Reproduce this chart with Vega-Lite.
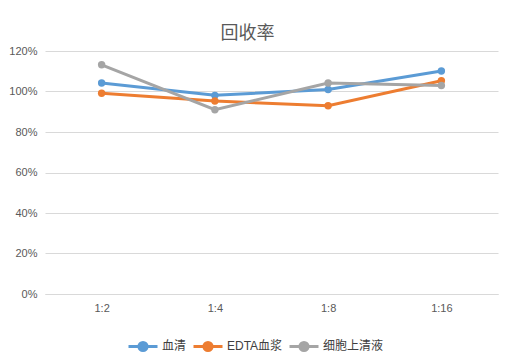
{
  "$schema": "https://vega.github.io/schema/vega-lite/v6.json",
  "width": 453,
  "height": 243,
  "autosize": {"type": "none"},
  "padding": {"left": 45, "top": 51, "right": 15, "bottom": 64},
  "background": "white",
  "title": {
    "text": "回收率",
    "font": "Noto Sans CJK SC",
    "fontSize": 18,
    "fontWeight": "normal",
    "color": "#595959",
    "anchor": "middle",
    "frame": "group",
    "dx": -24,
    "offset": 2
  },
  "data": {
    "values": [
      {"ratio": "1:2", "series": "血清", "value": 1.042},
      {"ratio": "1:4", "series": "血清", "value": 0.981},
      {"ratio": "1:8", "series": "血清", "value": 1.01},
      {"ratio": "1:16", "series": "血清", "value": 1.101},
      {"ratio": "1:2", "series": "EDTA血浆", "value": 0.991},
      {"ratio": "1:4", "series": "EDTA血浆", "value": 0.953},
      {"ratio": "1:8", "series": "EDTA血浆", "value": 0.93},
      {"ratio": "1:16", "series": "EDTA血浆", "value": 1.053},
      {"ratio": "1:2", "series": "细胞上清液", "value": 1.132},
      {"ratio": "1:4", "series": "细胞上清液", "value": 0.91},
      {"ratio": "1:8", "series": "细胞上清液", "value": 1.042},
      {"ratio": "1:16", "series": "细胞上清液", "value": 1.03}
    ]
  },
  "encoding": {
    "x": {
      "field": "ratio",
      "type": "nominal",
      "sort": ["1:2", "1:4", "1:8", "1:16"],
      "scale": {"paddingInner": 0, "paddingOuter": 0},
      "axis": {
        "title": null,
        "labelAngle": 0,
        "ticks": false,
        "domainColor": "#d9d9d9",
        "labelColor": "#595959",
        "labelFont": "Liberation Sans",
        "labelFontSize": 11,
        "labelPadding": 8
      }
    },
    "y": {
      "field": "value",
      "type": "quantitative",
      "scale": {"domain": [0, 1.2], "nice": false},
      "axis": {
        "title": null,
        "format": ".0%",
        "values": [0, 0.2, 0.4, 0.6, 0.8, 1.0, 1.2],
        "domain": false,
        "ticks": false,
        "gridColor": "#d9d9d9",
        "labelColor": "#595959",
        "labelFont": "Liberation Sans",
        "labelFontSize": 11,
        "labelPadding": 8
      }
    },
    "color": {
      "field": "series",
      "type": "nominal",
      "sort": ["血清", "EDTA血浆", "细胞上清液"],
      "scale": {
        "domain": ["血清", "EDTA血浆", "细胞上清液"],
        "range": ["#5B9BD5", "#ED7D31", "#A5A5A5"]
      },
      "legend": {
        "title": null,
        "orient": "none",
        "legendX": 82,
        "legendY": 279,
        "direction": "horizontal",
        "symbolType": "M-1,0L1,0M-0.28,0a0.28,0.28 0 1,0 0.56,0a0.28,0.28 0 1,0 -0.56,0",
        "symbolSize": 841,
        "symbolStrokeWidth": 3,
        "labelFont": "Liberation Sans, Noto Sans CJK SC",
        "labelFontSize": 12,
        "labelColor": "#404040",
        "columnPadding": 0,
        "labelOffset": 3
      }
    }
  },
  "mark": {
    "type": "line",
    "strokeWidth": 3,
    "point": {"filled": true, "size": 55}
  },
  "config": {
    "view": {"stroke": null}
  }
}
